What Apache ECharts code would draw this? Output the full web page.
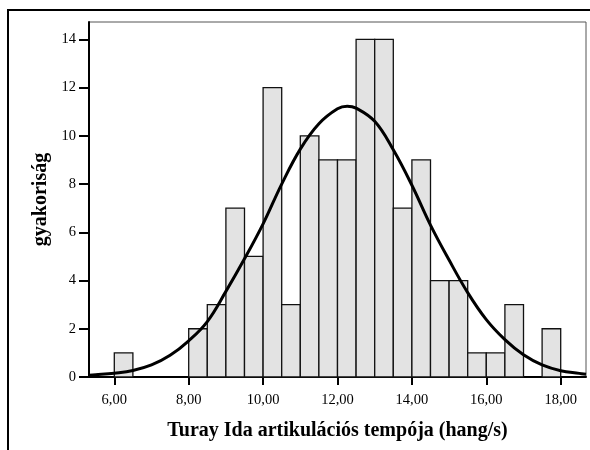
<!DOCTYPE html>
<html>
<head>
<meta charset="utf-8">
<script src="https://cdn.jsdelivr.net/npm/echarts@6/dist/echarts.min.js"></script>
<style>
  html, body { margin: 0; padding: 0; background: #fff; }
  #chart { width: 590px; height: 450px; }
</style>
</head>
<body>
<div id="chart"></div>
<script>
// histogram bins (start of each 0.5-wide bin) and frequencies
const binStarts = [6.0, 8.0, 8.5, 9.0, 9.5, 10.0, 10.5, 11.0, 11.5, 12.0, 12.5, 13.0, 13.5, 14.0, 14.5, 15.0, 15.5, 16.0, 16.5, 17.5];
const counts    = [1,   2,   3,   7,   5,   12,   3,    10,   9,    9,    14,   14,   7,    9,    4,    4,    1,    1,    3,    2];
const binWidth = 0.5;

// fitted normal curve
const curveX = [5.32, 5.5, 6.0, 6.5, 7.0, 7.5, 8.0, 8.5, 9.0, 9.5, 10.0, 10.5, 11.0, 11.5, 12.0, 12.26, 12.5, 13.0, 13.5, 14.0, 14.5, 15.0, 15.5, 16.0, 16.5, 17.0, 17.5, 18.0, 18.5, 18.68];
const curveY = [0.07, 0.09, 0.16, 0.27, 0.5, 0.9, 1.5, 2.3, 3.55, 4.9, 6.35, 8.0, 9.45, 10.5, 11.12, 11.23, 11.15, 10.6, 9.42, 7.95, 6.3, 4.85, 3.5, 2.38, 1.55, 0.92, 0.5, 0.26, 0.15, 0.11];

const xTicks = [6, 8, 10, 12, 14, 16, 18];
const yTicks = [0, 2, 4, 6, 8, 10, 12, 14];

const serif = '"Liberation Serif", "DejaVu Serif", serif';

const chart = echarts.init(document.getElementById('chart'));

const bars = binStarts.map((s, i) => [s, s + binWidth, counts[i]]);

chart.setOption({
    backgroundColor: '#fff',
    animation: false,
    graphic: [{
        type: 'rect', shape: { x: 8, y: 10, width: 700, height: 600 },
        style: { fill: 'none', stroke: '#000', lineWidth: 2 }, z: 100
    }],
    grid: { left: 89, top: 22, right: 4, bottom: 73, show: true, borderColor: '#555', borderWidth: 1 },
    xAxis: {
        type: 'value', min: 5.32, max: 18.68,
        name: 'Turay Ida artikulációs tempója (hang/s)', nameLocation: 'middle', nameGap: 44,
        nameTextStyle: { fontFamily: serif, fontSize: 20, fontWeight: 'bold', color: '#000' },
        axisLine: { show: true, lineStyle: { color: '#000', width: 2 } },
        axisTick: { show: true, customValues: xTicks, length: 8, lineStyle: { color: '#000', width: 2 } },
        axisLabel: { customValues: xTicks, margin: 16, fontFamily: serif, fontSize: 14.5, color: '#000',
            formatter: v => v.toFixed(2).replace('.', ',') },
        splitLine: { show: false }
    },
    yAxis: {
        type: 'value', min: 0, max: 14.72,
        name: 'gyakoriság', nameLocation: 'middle', nameGap: 37,
        nameTextStyle: { fontFamily: serif, fontSize: 20, fontWeight: 'bold', color: '#000' },
        axisLine: { show: true, lineStyle: { color: '#000', width: 2 } },
        axisTick: { show: true, customValues: yTicks, length: 10, lineStyle: { color: '#000', width: 2 } },
        axisLabel: { customValues: yTicks, margin: 13, fontFamily: serif, fontSize: 14.5, color: '#000' },
        splitLine: { show: false }
    },
    series: [{
        type: 'custom',
        data: bars,
        encode: { x: [0, 1], y: 2 },
        renderItem: (params, api) => {
            const p0 = api.coord([api.value(0), api.value(2)]);
            const p1 = api.coord([api.value(1), 0]);
            return {
                type: 'rect',
                shape: { x: p0[0], y: p0[1], width: p1[0] - p0[0], height: p1[1] - p0[1] },
                style: { fill: '#e3e3e3', stroke: '#111', lineWidth: 1.3 }
            };
        }
    }, {
        type: 'line',
        data: curveX.map((x, i) => [x, curveY[i]]),
        smooth: 0.4,
        symbol: 'none',
        lineStyle: { color: '#000', width: 3 },
        z: 5
    }]
});
</script>
</body>
</html>
